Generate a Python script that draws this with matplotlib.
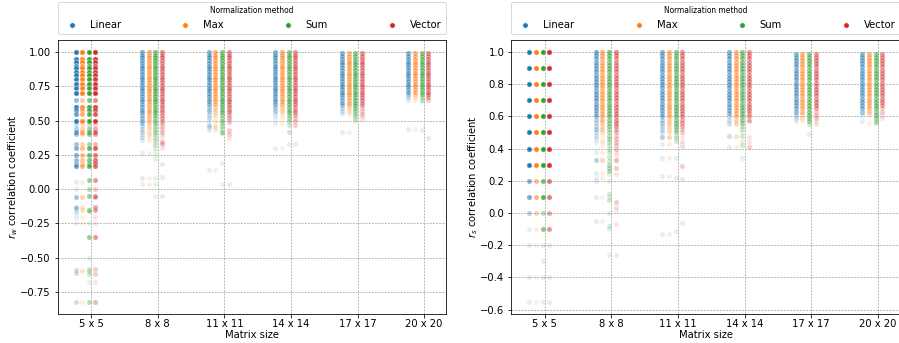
import numpy as np
import matplotlib
matplotlib.use("Agg")
import matplotlib.pyplot as plt
from matplotlib.lines import Line2D

# ---------------- data (value, number of overlapping observations) ----------------
SIZES = ["5 x 5", "8 x 8", "11 x 11", "14 x 14", "17 x 17", "20 x 20"]
METHODS = ["Linear", "Max", "Sum", "Vector"]

# ---- left panel: r_w ----
rw_05_linear = [(1.00,40),(0.95,25),(0.93,20),(0.90,25),(0.88,20),(0.855,25),(0.83,20),(0.80,18),(0.77,25),(0.735,20),(0.70,25),(0.65,5),(0.60,20),(0.575,8),(0.55,8),(0.50,20),(0.465,2),(0.44,3),(0.42,8),(0.40,4),(0.33,4),(0.30,6),(0.25,6),(0.21,5),(0.18,5),(0.165,8),(0.05,1),(0.00,1),(-0.06,4),(-0.13,2),(-0.14,3),(-0.165,2),(-0.20,1),(-0.25,1),(-0.59,2),(-0.61,2),(-0.82,2)]
rw_05_max = [(1.00,40),(0.95,25),(0.93,20),(0.90,25),(0.88,20),(0.855,25),(0.83,20),(0.80,18),(0.77,25),(0.735,20),(0.70,25),(0.65,4),(0.60,18),(0.575,7),(0.55,7),(0.50,18),(0.465,2),(0.44,3),(0.42,7),(0.40,3),(0.33,3),(0.30,5),(0.25,5),(0.21,4),(0.18,4),(0.165,6),(0.05,1),(-0.06,3),(-0.13,2),(-0.15,2),(-0.20,1),(-0.25,1),(-0.60,2),(-0.82,1)]
rw_05_sum = [(1.00,40),(0.95,25),(0.93,20),(0.90,25),(0.88,20),(0.855,25),(0.83,20),(0.80,18),(0.77,25),(0.735,20),(0.70,25),(0.65,7),(0.60,22),(0.575,12),(0.55,12),(0.50,22),(0.465,2),(0.44,5),(0.42,10),(0.40,5),(0.33,4),(0.30,10),(0.25,8),(0.21,7),(0.18,8),(0.165,10),(0.066,5),(0.00,3),(-0.05,5),(-0.15,5),(-0.16,2),(-0.25,1),(-0.35,5),(-0.50,1),(-0.58,2),(-0.60,2),(-0.62,2),(-0.68,1),(-0.82,3)]
rw_05_vector = [(1.00,40),(0.95,25),(0.93,20),(0.90,25),(0.88,20),(0.855,25),(0.83,20),(0.80,18),(0.77,25),(0.735,20),(0.70,25),(0.65,6),(0.60,20),(0.575,10),(0.55,10),(0.50,20),(0.465,2),(0.44,4),(0.42,8),(0.40,4),(0.33,3),(0.30,10),(0.25,7),(0.21,8),(0.19,8),(0.165,8),(0.066,5),(0.00,2),(-0.05,5),(-0.06,3),(-0.13,4),(-0.15,4),(-0.20,1),(-0.25,1),(-0.35,5),(-0.58,2),(-0.62,2),(-0.68,1),(-0.82,3)]

rw_08_linear = [(1.00,7),(0.98,6),(0.96,6),(0.94,6),(0.92,6),(0.90,6),(0.88,6),(0.86,6),(0.84,6),(0.82,6),(0.80,6),(0.78,6),(0.76,6),(0.74,6),(0.72,6),(0.70,6),(0.68,6),(0.66,6),(0.64,5),(0.62,5),(0.60,5),(0.58,5),(0.56,5),(0.54,4),(0.52,4),(0.50,4),(0.48,3),(0.46,2),(0.44,2),(0.42,2),(0.40,1),(0.38,2),(0.36,1),(0.26,1),(0.08,1),(0.04,1)]
rw_08_max = [(1.00,7),(0.98,6),(0.96,6),(0.94,6),(0.92,6),(0.90,6),(0.88,6),(0.86,6),(0.84,6),(0.82,6),(0.80,6),(0.78,6),(0.76,6),(0.74,6),(0.72,6),(0.70,6),(0.68,6),(0.66,6),(0.64,5),(0.62,5),(0.60,5),(0.58,5),(0.56,5),(0.54,4),(0.52,4),(0.50,3),(0.48,2),(0.46,2),(0.44,2),(0.42,1),(0.40,2),(0.38,1),(0.36,1),(0.26,1),(0.08,1),(0.04,1)]
rw_08_sum = [(1.00,7),(0.98,7),(0.96,7),(0.94,7),(0.92,7),(0.90,7),(0.88,7),(0.86,7),(0.84,7),(0.82,7),(0.80,7),(0.78,7),(0.76,7),(0.74,7),(0.72,7),(0.70,7),(0.68,7),(0.66,7),(0.64,6),(0.62,6),(0.60,6),(0.58,6),(0.56,6),(0.54,5),(0.52,4),(0.50,4),(0.48,3),(0.46,3),(0.44,3),(0.42,3),(0.40,2),(0.38,2),(0.36,2),(0.34,1),(0.32,2),(0.30,1),(0.28,1),(0.25,1),(0.22,1),(0.08,1),(0.04,1),(-0.05,1)]
rw_08_vector = [(1.00,6),(0.98,5),(0.96,5),(0.94,5),(0.92,5),(0.90,5),(0.88,5),(0.86,5),(0.84,5),(0.82,5),(0.80,5),(0.78,5),(0.76,5),(0.74,5),(0.72,5),(0.70,5),(0.68,5),(0.66,5),(0.64,5),(0.62,5),(0.60,5),(0.58,4),(0.56,4),(0.54,4),(0.52,4),(0.50,3),(0.48,2),(0.46,2),(0.44,2),(0.42,2),(0.40,1),(0.38,1),(0.34,3),(0.33,2),(0.30,1),(0.18,1),(0.09,1),(-0.05,1)]

rw_11_linear = [(1.00,6),(0.98,6),(0.96,6),(0.94,6),(0.92,6),(0.90,6),(0.88,6),(0.86,6),(0.84,6),(0.82,6),(0.80,6),(0.78,6),(0.76,6),(0.74,6),(0.72,6),(0.70,6),(0.68,6),(0.66,5),(0.64,5),(0.62,5),(0.60,3),(0.58,3),(0.56,2),(0.54,2),(0.52,2),(0.50,1),(0.47,2),(0.45,2),(0.43,1),(0.14,1)]
rw_11_max = [(1.00,6),(0.98,6),(0.96,6),(0.94,6),(0.92,6),(0.90,6),(0.88,6),(0.86,6),(0.84,6),(0.82,6),(0.80,6),(0.78,6),(0.76,6),(0.74,6),(0.72,6),(0.70,6),(0.68,6),(0.66,5),(0.64,5),(0.62,5),(0.60,3),(0.58,2),(0.56,2),(0.54,2),(0.52,1),(0.50,1),(0.47,1),(0.45,2),(0.43,1),(0.14,1)]
rw_11_sum = [(1.00,6),(0.98,6),(0.96,6),(0.94,6),(0.92,6),(0.90,6),(0.88,6),(0.86,6),(0.84,6),(0.82,6),(0.80,6),(0.78,6),(0.76,6),(0.74,6),(0.72,6),(0.70,6),(0.68,6),(0.66,6),(0.64,6),(0.62,6),(0.60,6),(0.58,5),(0.56,5),(0.54,4),(0.52,3),(0.50,4),(0.48,2),(0.46,3),(0.44,2),(0.42,3),(0.41,2),(0.19,1),(0.04,1)]
rw_11_vector = [(1.00,5),(0.98,5),(0.96,5),(0.94,5),(0.92,5),(0.90,5),(0.88,5),(0.86,5),(0.84,5),(0.82,5),(0.80,5),(0.78,5),(0.76,5),(0.74,5),(0.72,5),(0.70,5),(0.68,5),(0.66,5),(0.64,5),(0.62,5),(0.60,5),(0.58,4),(0.56,4),(0.54,3),(0.52,3),(0.50,2),(0.48,1),(0.43,2),(0.40,2),(0.37,1),(0.04,1)]

rw_14_linear = [(1.00,6),(0.98,6),(0.96,6),(0.94,6),(0.92,6),(0.90,6),(0.88,6),(0.86,6),(0.84,6),(0.82,6),(0.80,6),(0.78,6),(0.76,6),(0.74,6),(0.72,6),(0.70,6),(0.68,6),(0.66,5),(0.64,5),(0.62,5),(0.60,3),(0.58,2),(0.56,2),(0.54,1),(0.52,1),(0.48,1),(0.30,1)]
rw_14_max = [(1.00,6),(0.98,6),(0.96,6),(0.94,6),(0.92,6),(0.90,6),(0.88,6),(0.86,6),(0.84,6),(0.82,6),(0.80,6),(0.78,6),(0.76,6),(0.74,6),(0.72,6),(0.70,6),(0.68,6),(0.66,5),(0.64,5),(0.62,5),(0.60,3),(0.58,2),(0.56,2),(0.54,1),(0.52,1),(0.48,1),(0.30,1)]
rw_14_sum = [(1.00,6),(0.98,6),(0.96,6),(0.94,6),(0.92,6),(0.90,6),(0.88,6),(0.86,6),(0.84,6),(0.82,6),(0.80,6),(0.78,6),(0.76,6),(0.74,6),(0.72,6),(0.70,6),(0.68,6),(0.66,6),(0.64,6),(0.62,6),(0.60,5),(0.58,5),(0.56,5),(0.54,4),(0.52,3),(0.50,3),(0.47,2),(0.42,2),(0.33,1)]
rw_14_vector = [(1.00,5),(0.98,5),(0.96,5),(0.94,5),(0.92,5),(0.90,5),(0.88,5),(0.86,5),(0.84,5),(0.82,5),(0.80,5),(0.78,5),(0.76,5),(0.74,5),(0.72,5),(0.70,5),(0.68,5),(0.66,5),(0.64,5),(0.62,5),(0.60,4),(0.58,4),(0.56,4),(0.54,3),(0.52,2),(0.50,2),(0.47,2),(0.33,1)]

rw_17_linear = [(0.99,6),(0.97,6),(0.95,6),(0.93,6),(0.91,6),(0.89,6),(0.87,6),(0.85,6),(0.83,6),(0.81,6),(0.79,6),(0.77,6),(0.75,6),(0.73,6),(0.71,6),(0.69,6),(0.67,5),(0.65,5),(0.63,5),(0.61,3),(0.59,2),(0.57,2),(0.55,1),(0.42,1)]
rw_17_max = [(0.99,6),(0.97,6),(0.95,6),(0.93,6),(0.91,6),(0.89,6),(0.87,6),(0.85,6),(0.83,6),(0.81,6),(0.79,6),(0.77,6),(0.75,6),(0.73,6),(0.71,6),(0.69,6),(0.67,5),(0.65,5),(0.63,5),(0.61,3),(0.59,2),(0.57,2),(0.55,1),(0.42,1)]
rw_17_sum = [(0.99,6),(0.97,6),(0.95,6),(0.93,6),(0.91,6),(0.89,6),(0.87,6),(0.85,6),(0.83,6),(0.81,6),(0.79,6),(0.77,6),(0.75,6),(0.73,6),(0.71,6),(0.69,6),(0.67,6),(0.65,6),(0.63,6),(0.61,5),(0.59,5),(0.57,4),(0.55,3),(0.53,2),(0.51,2),(0.50,1)]
rw_17_vector = [(0.99,5),(0.97,5),(0.95,5),(0.93,5),(0.91,5),(0.89,5),(0.87,5),(0.85,5),(0.83,5),(0.81,5),(0.79,5),(0.77,5),(0.75,5),(0.73,5),(0.71,5),(0.69,5),(0.67,5),(0.65,5),(0.63,4),(0.61,3),(0.59,2),(0.57,2),(0.55,2),(0.53,1),(0.51,1)]

rw_20_linear = [(0.99,6),(0.97,6),(0.95,6),(0.93,6),(0.91,6),(0.89,6),(0.87,6),(0.85,6),(0.83,6),(0.81,6),(0.79,6),(0.77,6),(0.75,6),(0.73,5),(0.71,5),(0.69,3),(0.67,2),(0.65,1),(0.44,1)]
rw_20_max = [(0.99,6),(0.97,6),(0.95,6),(0.93,6),(0.91,6),(0.89,6),(0.87,6),(0.85,6),(0.83,6),(0.81,6),(0.79,6),(0.77,6),(0.75,6),(0.73,5),(0.71,5),(0.69,3),(0.67,2),(0.65,1),(0.44,1)]
rw_20_sum = [(0.99,6),(0.97,6),(0.95,6),(0.93,6),(0.91,6),(0.89,6),(0.87,6),(0.85,6),(0.83,6),(0.81,6),(0.79,6),(0.77,6),(0.75,6),(0.73,6),(0.71,5),(0.69,5),(0.67,3),(0.65,2),(0.64,1),(0.43,1)]
rw_20_vector = [(0.99,5),(0.97,5),(0.95,5),(0.93,5),(0.91,5),(0.89,5),(0.87,5),(0.85,5),(0.83,5),(0.81,5),(0.79,5),(0.77,5),(0.75,5),(0.73,5),(0.71,5),(0.69,5),(0.67,4),(0.65,2),(0.37,1)]

# ---- right panel: r_s ----
rs_05_linear = [(1.0,30),(0.9,30),(0.8,30),(0.7,30),(0.6,30),(0.5,30),(0.4,25),(0.3,25),(0.2,6),(0.1,7),(0.0,3),(-0.1,1),(-0.2,1),(-0.4,1),(-0.55,1)]
rs_05_max = [(1.0,30),(0.9,30),(0.8,30),(0.7,30),(0.6,30),(0.5,30),(0.4,25),(0.3,25),(0.2,5),(0.1,6),(0.0,3),(-0.1,1),(-0.2,1),(-0.4,1),(-0.55,1)]
rs_05_sum = [(1.0,30),(0.9,30),(0.8,30),(0.7,30),(0.6,30),(0.5,30),(0.4,25),(0.3,25),(0.2,8),(0.1,12),(0.0,3),(-0.1,6),(-0.2,1),(-0.3,1),(-0.4,1),(-0.55,1)]
rs_05_vector = [(1.0,30),(0.9,30),(0.8,30),(0.7,30),(0.6,30),(0.5,30),(0.4,25),(0.3,25),(0.2,7),(0.1,7),(0.0,4),(-0.1,5),(-0.2,1),(-0.4,1),(-0.55,1)]

rs_08_linear = [(1.00,7),(0.98,6),(0.96,6),(0.94,6),(0.92,6),(0.90,6),(0.88,6),(0.86,6),(0.84,6),(0.82,6),(0.80,6),(0.78,6),(0.76,6),(0.74,6),(0.72,6),(0.70,6),(0.68,6),(0.66,6),(0.64,5),(0.62,5),(0.60,5),(0.58,3),(0.56,2),(0.54,2),(0.52,3),(0.50,2),(0.48,2),(0.46,1),(0.44,1),(0.38,1),(0.33,3),(0.25,1),(0.22,1),(0.20,1),(0.10,1),(-0.05,1)]
rs_08_max = [(1.00,7),(0.98,6),(0.96,6),(0.94,6),(0.92,6),(0.90,6),(0.88,6),(0.86,6),(0.84,6),(0.82,6),(0.80,6),(0.78,6),(0.76,6),(0.74,6),(0.72,6),(0.70,6),(0.68,6),(0.66,6),(0.64,5),(0.62,5),(0.60,5),(0.58,5),(0.56,3),(0.54,2),(0.52,3),(0.50,2),(0.48,1),(0.45,2),(0.42,1),(0.38,1),(0.33,3),(0.25,1),(0.22,1),(0.10,1),(-0.05,1)]
rs_08_sum = [(1.00,7),(0.98,6),(0.96,6),(0.94,6),(0.92,6),(0.90,6),(0.88,6),(0.86,6),(0.84,6),(0.82,6),(0.80,6),(0.78,6),(0.76,6),(0.74,6),(0.72,6),(0.70,6),(0.68,6),(0.66,6),(0.64,6),(0.62,6),(0.60,6),(0.58,5),(0.56,4),(0.54,4),(0.52,3),(0.50,3),(0.48,3),(0.46,3),(0.44,2),(0.42,2),(0.40,2),(0.38,2),(0.35,2),(0.32,2),(0.30,3),(0.28,3),(0.26,3),(0.24,1),(0.20,1),(0.12,2),(0.10,1),(0.08,2),(0.00,1),(-0.08,2),(-0.10,1),(-0.26,1)]
rs_08_vector = [(1.00,6),(0.98,5),(0.96,5),(0.94,5),(0.92,5),(0.90,5),(0.88,5),(0.86,5),(0.84,5),(0.82,5),(0.80,5),(0.78,5),(0.76,5),(0.74,5),(0.72,5),(0.70,5),(0.68,5),(0.66,5),(0.64,5),(0.62,5),(0.60,5),(0.58,5),(0.56,5),(0.54,4),(0.52,3),(0.50,3),(0.48,2),(0.46,2),(0.44,2),(0.42,2),(0.40,2),(0.38,1),(0.36,1),(0.33,3),(0.28,2),(0.24,1),(0.07,2),(0.04,1),(0.02,1),(-0.07,1),(-0.26,1)]

rs_11_linear = [(1.00,6),(0.98,6),(0.96,6),(0.94,6),(0.92,6),(0.90,6),(0.88,6),(0.86,6),(0.84,6),(0.82,6),(0.80,6),(0.78,6),(0.76,6),(0.74,6),(0.72,6),(0.70,6),(0.68,6),(0.66,6),(0.64,5),(0.62,5),(0.60,5),(0.58,3),(0.56,3),(0.54,2),(0.52,2),(0.50,2),(0.47,3),(0.43,1),(0.34,1),(0.23,1),(-0.13,1)]
rs_11_max = [(1.00,6),(0.98,6),(0.96,6),(0.94,6),(0.92,6),(0.90,6),(0.88,6),(0.86,6),(0.84,6),(0.82,6),(0.80,6),(0.78,6),(0.76,6),(0.74,6),(0.72,6),(0.70,6),(0.68,6),(0.66,6),(0.64,5),(0.62,5),(0.60,5),(0.58,3),(0.56,3),(0.54,2),(0.52,2),(0.50,2),(0.47,3),(0.43,1),(0.34,1),(0.23,1),(-0.13,1)]
rs_11_sum = [(1.00,6),(0.98,6),(0.96,6),(0.94,6),(0.92,6),(0.90,6),(0.88,6),(0.86,6),(0.84,6),(0.82,6),(0.80,6),(0.78,6),(0.76,6),(0.74,6),(0.72,6),(0.70,6),(0.68,6),(0.66,6),(0.64,6),(0.62,6),(0.60,6),(0.58,5),(0.56,5),(0.54,5),(0.52,4),(0.50,4),(0.47,3),(0.45,2),(0.34,1),(0.22,1),(-0.11,1)]
rs_11_vector = [(1.00,5),(0.98,5),(0.96,5),(0.94,5),(0.92,5),(0.90,5),(0.88,5),(0.86,5),(0.84,5),(0.82,5),(0.80,5),(0.78,5),(0.76,5),(0.74,5),(0.72,5),(0.70,5),(0.68,5),(0.66,5),(0.64,5),(0.62,5),(0.60,5),(0.58,4),(0.56,4),(0.54,3),(0.52,2),(0.50,2),(0.48,1),(0.45,1),(0.43,1),(0.41,1),(0.29,2),(0.21,1),(-0.06,1)]

rs_14_linear = [(1.00,6),(0.98,6),(0.96,6),(0.94,6),(0.92,6),(0.90,6),(0.88,6),(0.86,6),(0.84,6),(0.82,6),(0.80,6),(0.78,6),(0.76,6),(0.74,6),(0.72,6),(0.70,6),(0.68,6),(0.66,5),(0.64,5),(0.62,5),(0.60,2),(0.58,2),(0.56,1),(0.55,1),(0.48,2),(0.41,1)]
rs_14_max = [(1.00,6),(0.98,6),(0.96,6),(0.94,6),(0.92,6),(0.90,6),(0.88,6),(0.86,6),(0.84,6),(0.82,6),(0.80,6),(0.78,6),(0.76,6),(0.74,6),(0.72,6),(0.70,6),(0.68,6),(0.66,5),(0.64,5),(0.62,5),(0.60,4),(0.58,3),(0.56,2),(0.55,1),(0.48,2),(0.41,1)]
rs_14_sum = [(1.00,6),(0.98,6),(0.96,6),(0.94,6),(0.92,6),(0.90,6),(0.88,6),(0.86,6),(0.84,6),(0.82,6),(0.80,6),(0.78,6),(0.76,6),(0.74,6),(0.72,6),(0.70,6),(0.68,6),(0.66,6),(0.64,6),(0.62,6),(0.60,5),(0.58,5),(0.56,4),(0.54,2),(0.52,2),(0.50,1),(0.48,2),(0.45,1),(0.42,2),(0.34,1)]
rs_14_vector = [(1.00,5),(0.98,5),(0.96,5),(0.94,5),(0.92,5),(0.90,5),(0.88,5),(0.86,5),(0.84,5),(0.82,5),(0.80,5),(0.78,5),(0.76,5),(0.74,5),(0.72,5),(0.70,5),(0.68,5),(0.66,5),(0.64,5),(0.62,4),(0.60,4),(0.58,2),(0.57,2),(0.47,1),(0.44,1),(0.41,2)]

rs_17_linear = [(0.99,6),(0.97,6),(0.95,6),(0.93,6),(0.91,6),(0.89,6),(0.87,6),(0.85,6),(0.83,6),(0.81,6),(0.79,6),(0.77,6),(0.75,6),(0.73,6),(0.71,6),(0.69,6),(0.67,5),(0.65,5),(0.63,5),(0.61,2),(0.59,2),(0.57,1)]
rs_17_max = [(0.99,6),(0.97,6),(0.95,6),(0.93,6),(0.91,6),(0.89,6),(0.87,6),(0.85,6),(0.83,6),(0.81,6),(0.79,6),(0.77,6),(0.75,6),(0.73,6),(0.71,6),(0.69,6),(0.67,5),(0.65,5),(0.63,5),(0.61,2),(0.59,2),(0.57,1)]
rs_17_sum = [(0.99,6),(0.97,6),(0.95,6),(0.93,6),(0.91,6),(0.89,6),(0.87,6),(0.85,6),(0.83,6),(0.81,6),(0.79,6),(0.77,6),(0.75,6),(0.73,6),(0.71,6),(0.69,6),(0.67,6),(0.65,6),(0.63,6),(0.61,5),(0.59,5),(0.57,4),(0.55,2),(0.49,1)]
rs_17_vector = [(0.99,5),(0.97,5),(0.95,5),(0.93,5),(0.91,5),(0.89,5),(0.87,5),(0.85,5),(0.83,5),(0.81,5),(0.79,5),(0.77,5),(0.75,5),(0.73,5),(0.71,5),(0.69,5),(0.67,5),(0.65,4),(0.63,2),(0.61,2),(0.59,2),(0.57,1),(0.55,1)]

rs_20_linear = [(0.99,6),(0.97,6),(0.95,6),(0.93,6),(0.91,6),(0.89,6),(0.87,6),(0.85,6),(0.83,6),(0.81,6),(0.79,6),(0.77,6),(0.75,6),(0.73,6),(0.71,6),(0.69,6),(0.67,5),(0.65,5),(0.63,4),(0.61,1),(0.57,1)]
rs_20_max = [(0.99,6),(0.97,6),(0.95,6),(0.93,6),(0.91,6),(0.89,6),(0.87,6),(0.85,6),(0.83,6),(0.81,6),(0.79,6),(0.77,6),(0.75,6),(0.73,6),(0.71,6),(0.69,6),(0.67,5),(0.65,5),(0.63,4),(0.61,1),(0.56,1)]
rs_20_sum = [(0.99,6),(0.97,6),(0.95,6),(0.93,6),(0.91,6),(0.89,6),(0.87,6),(0.85,6),(0.83,6),(0.81,6),(0.79,6),(0.77,6),(0.75,6),(0.73,6),(0.71,6),(0.69,6),(0.67,6),(0.65,6),(0.63,5),(0.61,5),(0.59,4),(0.57,3),(0.56,2)]
rs_20_vector = [(0.99,5),(0.97,5),(0.95,5),(0.93,5),(0.91,5),(0.89,5),(0.87,5),(0.85,5),(0.83,5),(0.81,5),(0.79,5),(0.77,5),(0.75,5),(0.73,5),(0.71,5),(0.69,5),(0.67,4),(0.65,2),(0.63,2),(0.61,1),(0.59,1)]

RW_DATA = [
    [rw_05_linear, rw_05_max, rw_05_sum, rw_05_vector],
    [rw_08_linear, rw_08_max, rw_08_sum, rw_08_vector],
    [rw_11_linear, rw_11_max, rw_11_sum, rw_11_vector],
    [rw_14_linear, rw_14_max, rw_14_sum, rw_14_vector],
    [rw_17_linear, rw_17_max, rw_17_sum, rw_17_vector],
    [rw_20_linear, rw_20_max, rw_20_sum, rw_20_vector],
]
RS_DATA = [
    [rs_05_linear, rs_05_max, rs_05_sum, rs_05_vector],
    [rs_08_linear, rs_08_max, rs_08_sum, rs_08_vector],
    [rs_11_linear, rs_11_max, rs_11_sum, rs_11_vector],
    [rs_14_linear, rs_14_max, rs_14_sum, rs_14_vector],
    [rs_17_linear, rs_17_max, rs_17_sum, rs_17_vector],
    [rs_20_linear, rs_20_max, rs_20_sum, rs_20_vector],
]

# ---------------- style ----------------
COLORS = ["#1f77b4", "#ff7f0e", "#2ca02c", "#d62728"]
OFFSETS = [-0.235, -0.135, -0.035, 0.065]
ALPHA = 0.12
MARKER_S = 26

DPI = 72
fig = plt.figure(figsize=(899 / DPI, 343 / DPI), dpi=DPI)
plt.rcParams["font.family"] = ["DejaVu Sans"]

ax_l = fig.add_axes([0.0640, 0.0845, 0.4322, 0.8003])
ax_r = fig.add_axes([0.5687, 0.0845, 0.4322, 0.8003])


def draw(ax, data, ylabel, ylim, yticks, fmt):
    ax.set_axisbelow(True)
    ax.grid(True, color="#a8a8a8", linestyle=(0, (2.5, 1.5)), linewidth=0.8)
    for i, per_size in enumerate(data):
        for j, group in enumerate(per_size):
            vals = np.array([v for v, c in group])
            cnts = np.array([c for v, c in group])
            y = np.repeat(vals, cnts)
            x = np.full(y.shape, i + OFFSETS[j])
            ax.scatter(x, y, s=MARKER_S, color=COLORS[j], alpha=ALPHA,
                       edgecolors="white", linewidths=0.6, zorder=3)
    ax.set_xlim(-0.505, 5.33)
    ax.set_ylim(*ylim)
    ax.set_xticks(range(len(SIZES)))
    ax.set_xticklabels(SIZES, fontsize=10)
    ax.tick_params(axis="x", pad=1.5)
    ax.set_yticks(yticks)
    ax.set_yticklabels([fmt.format(t).replace("-", "\u2212") for t in yticks], fontsize=10)
    ax.set_xlabel("Matrix size", fontsize=10, labelpad=1)
    ax.set_ylabel(ylabel, fontsize=10, labelpad=0)
    handles = [Line2D([0], [0], marker="o", linestyle="none", markersize=5.5,
                      markerfacecolor=c, markeredgecolor="white", markeredgewidth=0.6)
               for c in COLORS]
    leg = ax.legend(handles, METHODS, title="Normalization method", ncol=4,
                    loc="lower left", bbox_to_anchor=(0, 1.02, 1, 0.1), mode="expand",
                    borderaxespad=0, fontsize=10, title_fontsize=7.5, frameon=True)
    leg.get_frame().set_edgecolor("#d0d0d0")


draw(ax_l, RW_DATA, r"$r_w$ correlation coefficient", (-0.911, 1.091),
     [-0.75, -0.5, -0.25, 0.0, 0.25, 0.5, 0.75, 1.0], "{:.2f}")
draw(ax_r, RS_DATA, r"$r_s$ correlation coefficient", (-0.6275, 1.0775),
     [-0.6, -0.4, -0.2, 0.0, 0.2, 0.4, 0.6, 0.8, 1.0], "{:.1f}")

fig.savefig("out.png", dpi=DPI)
